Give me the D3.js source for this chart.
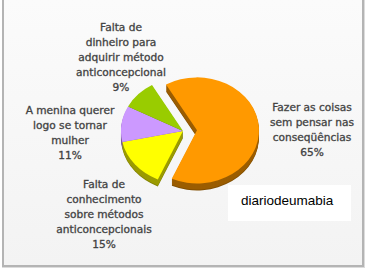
<!DOCTYPE html>
<html>
<head>
<meta charset="utf-8">
<script src="https://cdn.jsdelivr.net/npm/d3@7"></script>
<style>
  body { margin: 0; background: #ffffff; }
  svg { display: block; }
</style>
</head>
<body>
<script>
// chart data
var categories = [
    ["Fazer as coisas", "sem pensar nas", "conseqüências"],
    ["Falta de", "conhecimento", "sobre métodos", "anticoncepcionais"],
    ["A menina querer", "logo se tornar", "mulher"],
    ["Falta de", "dinheiro para", "adquirir método", "anticoncepcional"]
];
var values = [65, 15, 11, 9];
var sliceColors = ["#ff9900", "#ffff00", "#cc99ff", "#99cc00"];
var exploded = [true, false, false, false];
var watermark = "diariodeumabia";

// layout
var w = 368, h = 272;
var cx = 183, cy = 131;
var rx = 62, ry = 53;
var depth = 7;
var explodeBy = 14;
// label block position (first line baseline) per slice
var labelAt = [[312, 111], [104, 188], [70, 114], [121, 31]];
var lineH = 15;

var svg = d3.select("body").append("svg")
    .attr("width", w)
    .attr("height", h);

// frame
svg.append("rect").attr("x", 0).attr("y", 0).attr("width", w).attr("height", h).attr("fill", "#ffffff");
var bg = svg.append("defs").append("linearGradient")
    .attr("id", "bg").attr("x1", 0).attr("y1", 0).attr("x2", 0).attr("y2", 1);
bg.append("stop").attr("offset", "0%").attr("stop-color", "#fbfbfb");
bg.append("stop").attr("offset", "100%").attr("stop-color", "#f3f3f3");
svg.append("rect").attr("x", 3).attr("y", 0).attr("width", 360).attr("height", 265)
    .attr("fill", "url(#bg)");
svg.append("rect").attr("x", 2).attr("y", 0).attr("width", 2).attr("height", 267).attr("fill", "#b4b4b4");
svg.append("rect").attr("x", 362).attr("y", 0).attr("width", 2).attr("height", 267).attr("fill", "#b4b4b4");
svg.append("rect").attr("x", 2).attr("y", 265).attr("width", 362).attr("height", 2).attr("fill", "#b4b4b4");
svg.append("rect").attr("x", 364).attr("y", 0).attr("width", 1).attr("height", 268).attr("fill", "#dcdcdc");
svg.append("rect").attr("x", 2).attr("y", 267).attr("width", 363).attr("height", 1).attr("fill", "#dcdcdc");

// pie
var pie = d3.pie().sort(null).value(function (d) { return d; })
    .startAngle(-30 * Math.PI / 180)
    .endAngle(330 * Math.PI / 180);
var arcs = pie(values);
var arc = d3.arc().innerRadius(0).outerRadius(rx);

function offsetOf(d, i) {
    if (!exploded[i]) return [0, 0];
    var mid = (d.startAngle + d.endAngle) / 2;
    return [Math.sin(mid) * explodeBy, -Math.cos(mid) * explodeBy * ry / rx];
}

// extruded sides: stack copies of each slice from the bottom up
var sides = svg.append("g");
for (var k = depth; k >= 1; k--) {
    arcs.forEach(function (d, i) {
        var o = offsetOf(d, i);
        sides.append("g")
            .attr("transform", "translate(" + (cx + o[0]) + "," + (cy + o[1] + k) + ") scale(1," + (ry / rx) + ")")
            .append("path")
            .attr("d", arc(d))
            .attr("fill", d3.color(sliceColors[i]).darker(k === depth ? 1.9 : 1.4));
    });
}

// top faces
var tops = svg.append("g");
arcs.forEach(function (d, i) {
    var o = offsetOf(d, i);
    tops.append("g")
        .attr("transform", "translate(" + (cx + o[0]) + "," + (cy + o[1]) + ") scale(1," + (ry / rx) + ")")
        .append("path")
        .attr("d", arc(d))
        .attr("fill", sliceColors[i]);
});

// labels
var labels = svg.append("g")
    .attr("font-family", "DejaVu Sans, Verdana, sans-serif")
    .attr("font-size", "10.6px")
    .attr("fill", "#333333")
    .attr("stroke", "#555555")
    .attr("stroke-width", 0.35)
    .attr("text-anchor", "middle");
categories.forEach(function (lines, i) {
    var t = labels.append("text")
        .attr("x", labelAt[i][0])
        .attr("y", labelAt[i][1]);
    lines.concat([values[i] + "%"]).forEach(function (s, j) {
        t.append("tspan")
            .attr("x", labelAt[i][0])
            .attr("dy", j === 0 ? 0 : lineH)
            .text(s);
    });
});

// watermark box
svg.append("rect").attr("x", 228).attr("y", 185).attr("width", 123).attr("height", 36).attr("fill", "#ffffff");
svg.append("text")
    .attr("x", 241).attr("y", 205)
    .attr("font-family", "Liberation Sans, Arial, sans-serif")
    .attr("font-size", "13.5px")
    .attr("fill", "#000000")
    .text(watermark);
</script>
</body>
</html>
